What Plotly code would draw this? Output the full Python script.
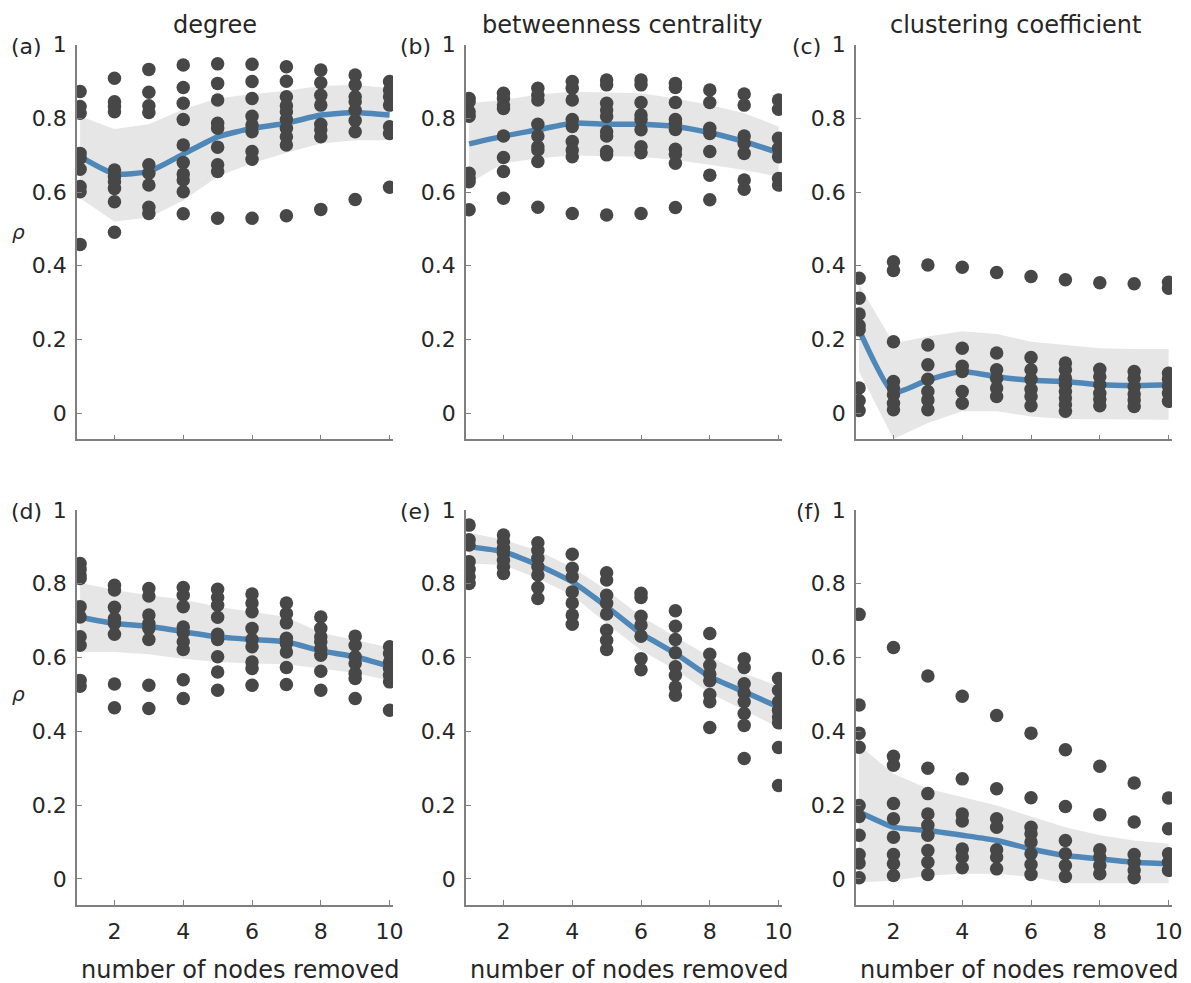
import plotly.graph_objects as go

# ---------------- data ----------------
x_nodes = [1, 2, 3, 4, 5, 6, 7, 8, 9, 10]
x_ticks = [2, 4, 6, 8, 10]
y_ticks = [0, 0.2, 0.4, 0.6, 0.8, 1]
y_ticklabels = ["0", "0.2", "0.4", "0.6", "0.8", "1"]

col_titles = ["degree", "betweenness centrality", "clustering coefficient"]
panel_letters = ["(a)", "(b)", "(c)", "(d)", "(e)", "(f)"]
x_label = "number of nodes removed"
y_label = "ρ"

# (a) degree, top row
a_dots = [
    [0.873, 0.832, 0.814, 0.705, 0.692, 0.662, 0.615, 0.601, 0.458],
    [0.909, 0.845, 0.832, 0.818, 0.660, 0.642, 0.628, 0.610, 0.574, 0.491],
    [0.933, 0.871, 0.834, 0.816, 0.674, 0.651, 0.619, 0.559, 0.542],
    [0.945, 0.884, 0.841, 0.797, 0.728, 0.680, 0.649, 0.633, 0.601, 0.541],
    [0.948, 0.895, 0.850, 0.787, 0.773, 0.722, 0.674, 0.656, 0.529],
    [0.947, 0.900, 0.854, 0.806, 0.782, 0.764, 0.710, 0.689, 0.529],
    [0.940, 0.901, 0.859, 0.834, 0.818, 0.797, 0.773, 0.750, 0.728, 0.536],
    [0.931, 0.897, 0.863, 0.836, 0.784, 0.769, 0.750, 0.553],
    [0.918, 0.891, 0.859, 0.845, 0.822, 0.794, 0.764, 0.580],
    [0.900, 0.877, 0.859, 0.836, 0.777, 0.759, 0.613],
]
a_mean = [0.696, 0.649, 0.656, 0.703, 0.750, 0.773, 0.787, 0.809, 0.816, 0.809]
a_upper = [0.806, 0.771, 0.784, 0.825, 0.854, 0.866, 0.875, 0.888, 0.891, 0.882]
a_lower = [0.583, 0.520, 0.531, 0.577, 0.642, 0.678, 0.707, 0.732, 0.741, 0.741]

# (b) betweenness centrality, top row
b_dots = [
    [0.854, 0.845, 0.818, 0.806, 0.651, 0.637, 0.628, 0.552],
    [0.868, 0.854, 0.836, 0.827, 0.752, 0.694, 0.656, 0.583],
    [0.882, 0.863, 0.850, 0.784, 0.752, 0.723, 0.714, 0.683, 0.559],
    [0.900, 0.882, 0.850, 0.797, 0.778, 0.737, 0.714, 0.696, 0.542],
    [0.904, 0.891, 0.841, 0.823, 0.805, 0.764, 0.752, 0.710, 0.701, 0.538],
    [0.904, 0.891, 0.843, 0.809, 0.797, 0.769, 0.723, 0.707, 0.542],
    [0.895, 0.884, 0.843, 0.797, 0.787, 0.770, 0.716, 0.703, 0.678, 0.558],
    [0.877, 0.843, 0.773, 0.759, 0.710, 0.646, 0.579],
    [0.866, 0.836, 0.752, 0.732, 0.705, 0.633, 0.608],
    [0.850, 0.825, 0.746, 0.719, 0.696, 0.637, 0.619],
]
b_mean = [0.731, 0.752, 0.769, 0.787, 0.784, 0.784, 0.778, 0.761, 0.737, 0.707]
b_upper = [0.841, 0.850, 0.865, 0.872, 0.870, 0.868, 0.854, 0.836, 0.814, 0.778]
b_lower = [0.624, 0.678, 0.692, 0.699, 0.698, 0.696, 0.687, 0.674, 0.660, 0.642]

# (c) clustering coefficient, top row
c_dots = [
    [0.366, 0.312, 0.269, 0.238, 0.226, 0.068, 0.034, 0.007],
    [0.411, 0.387, 0.194, 0.086, 0.068, 0.050, 0.027, 0.009],
    [0.402, 0.185, 0.131, 0.092, 0.059, 0.036, 0.009],
    [0.396, 0.176, 0.127, 0.113, 0.059, 0.027],
    [0.382, 0.163, 0.118, 0.095, 0.068, 0.045],
    [0.371, 0.151, 0.118, 0.092, 0.065, 0.045, 0.020],
    [0.362, 0.136, 0.118, 0.095, 0.077, 0.059, 0.041, 0.023, 0.005],
    [0.354, 0.119, 0.099, 0.077, 0.054, 0.038, 0.020],
    [0.351, 0.113, 0.095, 0.072, 0.052, 0.036, 0.018],
    [0.355, 0.339, 0.108, 0.092, 0.074, 0.054, 0.032],
]
c_mean = [0.226, 0.056, 0.090, 0.113, 0.099, 0.089, 0.086, 0.077, 0.075, 0.077]
c_upper = [0.348, 0.190, 0.208, 0.222, 0.215, 0.194, 0.185, 0.176, 0.174, 0.174]
c_lower = [0.113, -0.070, -0.027, 0.005, 0.005, -0.009, -0.016, -0.018, -0.018, -0.018]

# (d) degree, bottom row
d_dots = [
    [0.855, 0.839, 0.824, 0.814, 0.738, 0.710, 0.656, 0.633, 0.538, 0.522],
    [0.796, 0.783, 0.736, 0.706, 0.692, 0.663, 0.528, 0.464],
    [0.787, 0.767, 0.715, 0.692, 0.679, 0.649, 0.525, 0.462],
    [0.790, 0.769, 0.738, 0.683, 0.667, 0.643, 0.622, 0.540, 0.489],
    [0.785, 0.763, 0.742, 0.709, 0.663, 0.649, 0.602, 0.561, 0.511],
    [0.772, 0.748, 0.724, 0.679, 0.649, 0.629, 0.588, 0.570, 0.525],
    [0.748, 0.719, 0.694, 0.652, 0.638, 0.615, 0.573, 0.527],
    [0.710, 0.679, 0.656, 0.643, 0.624, 0.606, 0.563, 0.511],
    [0.658, 0.633, 0.602, 0.584, 0.557, 0.543, 0.489],
    [0.629, 0.611, 0.588, 0.570, 0.552, 0.534, 0.457],
]
d_mean = [0.709, 0.692, 0.685, 0.670, 0.656, 0.649, 0.643, 0.618, 0.602, 0.576]
d_upper = [0.803, 0.783, 0.769, 0.757, 0.738, 0.724, 0.710, 0.667, 0.647, 0.627]
d_lower = [0.615, 0.615, 0.609, 0.597, 0.588, 0.584, 0.582, 0.570, 0.558, 0.538]

# (e) betweenness centrality, bottom row
e_dots = [
    [0.959, 0.919, 0.905, 0.860, 0.839, 0.819, 0.801],
    [0.932, 0.914, 0.896, 0.882, 0.864, 0.846, 0.828],
    [0.911, 0.891, 0.869, 0.846, 0.824, 0.790, 0.760],
    [0.880, 0.842, 0.819, 0.778, 0.748, 0.715, 0.690],
    [0.830, 0.810, 0.769, 0.747, 0.718, 0.674, 0.647, 0.622],
    [0.774, 0.763, 0.712, 0.688, 0.658, 0.597, 0.567],
    [0.727, 0.685, 0.649, 0.613, 0.575, 0.552, 0.520, 0.498],
    [0.665, 0.609, 0.579, 0.555, 0.537, 0.500, 0.480, 0.410],
    [0.597, 0.573, 0.529, 0.504, 0.480, 0.448, 0.416, 0.326],
    [0.543, 0.511, 0.480, 0.457, 0.439, 0.423, 0.356, 0.253],
]
e_mean = [0.900, 0.887, 0.851, 0.805, 0.738, 0.665, 0.611, 0.548, 0.507, 0.466]
e_upper = [0.938, 0.919, 0.890, 0.844, 0.783, 0.712, 0.656, 0.602, 0.557, 0.522]
e_lower = [0.855, 0.851, 0.814, 0.769, 0.692, 0.620, 0.567, 0.504, 0.457, 0.410]

# (f) clustering coefficient, bottom row
f_dots = [
    [0.717, 0.471, 0.395, 0.357, 0.199, 0.169, 0.118, 0.066, 0.043, 0.003],
    [0.627, 0.332, 0.308, 0.204, 0.163, 0.113, 0.066, 0.041, 0.009],
    [0.550, 0.300, 0.231, 0.176, 0.145, 0.118, 0.077, 0.045, 0.012],
    [0.495, 0.271, 0.176, 0.157, 0.081, 0.059, 0.030],
    [0.443, 0.244, 0.163, 0.140, 0.079, 0.059, 0.027],
    [0.395, 0.220, 0.140, 0.122, 0.100, 0.068, 0.039, 0.012],
    [0.350, 0.196, 0.104, 0.068, 0.036, 0.006],
    [0.305, 0.174, 0.079, 0.059, 0.036, 0.014],
    [0.260, 0.154, 0.066, 0.045, 0.024, 0.003],
    [0.219, 0.136, 0.068, 0.045, 0.023],
]
f_mean = [0.181, 0.140, 0.131, 0.118, 0.104, 0.081, 0.063, 0.054, 0.045, 0.041]
f_upper = [0.362, 0.285, 0.244, 0.222, 0.199, 0.169, 0.140, 0.118, 0.104, 0.095]
f_lower = [-0.009, -0.005, 0.009, 0.014, 0.014, 0.005, -0.012, -0.012, -0.012, -0.012]

panels = [
    (a_dots, a_mean, a_upper, a_lower),
    (b_dots, b_mean, b_upper, b_lower),
    (c_dots, c_mean, c_upper, c_lower),
    (d_dots, d_mean, d_upper, d_lower),
    (e_dots, e_mean, e_upper, e_lower),
    (f_dots, f_mean, f_upper, f_lower),
]

# ---------------- style / layout ----------------
W, H = 1191, 983
FONT = "DejaVu Sans, Liberation Sans, sans-serif"
TXT = "#262626"
AXC = "#7f7f7f"
DOT = "#474747"
LINE = "#4f88b8"
BAND = "#e6e6e6"

col_px = [(77, 393), (466, 782), (856, 1172)]
row_px = [(44.7, 439.3), (510, 905)]
x_range = [0.91, 10.1]
y_range = [-0.071, 1.0]

fig = go.Figure()
layout_axes = {}
annotations = []

for i, (dots, mean, upper, lower) in enumerate(panels):
    r, c = divmod(i, 3)
    n = i + 1
    xa = "x" if n == 1 else f"x{n}"
    ya = "y" if n == 1 else f"y{n}"
    # band
    fig.add_trace(go.Scatter(
        x=x_nodes + x_nodes[::-1], y=upper + lower[::-1],
        fill="toself", fillcolor=BAND, line=dict(width=0), mode="lines",
        hoverinfo="skip", showlegend=False, xaxis=xa, yaxis=ya))
    # mean line
    fig.add_trace(go.Scatter(
        x=x_nodes, y=mean, mode="lines",
        line=dict(color=LINE, width=5.5, shape="spline", smoothing=0.5),
        showlegend=False, xaxis=xa, yaxis=ya))
    # dots
    xs, ys = [], []
    for xv, col in zip(x_nodes, dots):
        for v in col:
            xs.append(xv)
            ys.append(v)
    fig.add_trace(go.Scatter(
        x=xs, y=ys, mode="markers",
        marker=dict(color=DOT, size=13.5, line=dict(width=0)),
        showlegend=False, xaxis=xa, yaxis=ya))

    x0, x1 = col_px[c]
    yt, yb = row_px[r]
    key_x = "xaxis" if n == 1 else f"xaxis{n}"
    key_y = "yaxis" if n == 1 else f"yaxis{n}"
    layout_axes[key_x] = dict(
        domain=[x0 / W, x1 / W], range=x_range, anchor=ya,
        tickvals=x_ticks, ticktext=[str(t) for t in x_ticks],
        showticklabels=(r == 1), ticks="inside", ticklen=5, tickwidth=1.2,
        tickcolor=AXC, showline=True, linecolor=AXC, linewidth=1.5,
        showgrid=False, zeroline=False, mirror=False, automargin=False,
        tickfont=dict(family=FONT, size=22, color=TXT), ticklabelstandoff=6)
    layout_axes[key_y] = dict(
        domain=[1 - yb / H, 1 - yt / H], range=y_range, anchor=xa,
        tickvals=y_ticks, ticktext=y_ticklabels,
        ticks="inside", ticklen=5, tickwidth=1.2, tickcolor=AXC,
        showline=True, linecolor=AXC, linewidth=1.5,
        showgrid=False, zeroline=False, mirror=False, automargin=False,
        tickfont=dict(family=FONT, size=22, color=TXT), ticklabelstandoff=4)

    # panel letter
    annotations.append(dict(
        text=panel_letters[i], x=(x0 - 33) / W, y=1 - (yt + 1.5) / H,
        xref="paper", yref="paper", xanchor="right", yanchor="middle",
        showarrow=False, font=dict(family=FONT, size=22, color=TXT)))
    # x label on bottom row
    if r == 1:
        annotations.append(dict(
            text=x_label, x=((x0 + x1) / 2 + 5) / W, y=1 - 970 / H,
            xref="paper", yref="paper", xanchor="center", yanchor="middle",
            showarrow=False, font=dict(family=FONT, size=24, color=TXT)))

# column titles
title_cx = [215, 622.5, 1015]
for c in range(3):
    annotations.append(dict(
        text=col_titles[c], x=title_cx[c] / W, y=1 - 25 / H,
        xref="paper", yref="paper", xanchor="center", yanchor="middle",
        showarrow=False, font=dict(family=FONT, size=24, color=TXT)))

# rho labels
for yc in [232, 694]:
    annotations.append(dict(
        text="<i>" + y_label + "</i>", x=18 / W, y=1 - yc / H,
        xref="paper", yref="paper", xanchor="center", yanchor="middle",
        showarrow=False, font=dict(family=FONT, size=20, color=TXT)))

fig.update_layout(
    width=W, height=H, autosize=False,
    margin=dict(l=0, r=0, t=0, b=0, pad=0, autoexpand=False),
    paper_bgcolor="white", plot_bgcolor="white",
    showlegend=False, annotations=annotations,
    **layout_axes)

fig.write_html("out.html", config={"displayModeBar": False},
               post_script="document.body.style.margin='0';document.body.style.overflow='hidden';")
